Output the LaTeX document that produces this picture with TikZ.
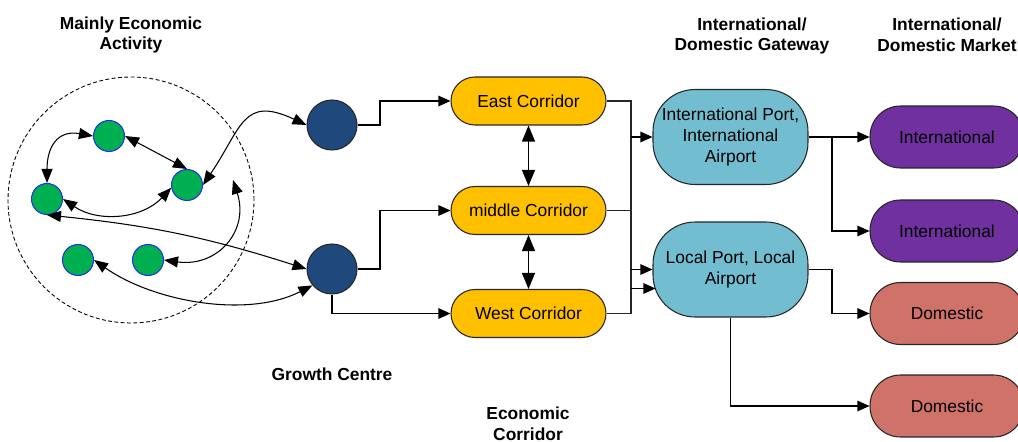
\documentclass[tikz,border=0pt]{standalone}
\usepackage{fontspec}
\setmainfont{Liberation Sans}
\usepackage{xcolor}
\usepackage{tikz}
\usetikzlibrary{positioning, calc, arrows.meta}
\definecolor{activitygreen}{RGB}{0,176,80}
\definecolor{activityedge}{RGB}{30,50,230}
\definecolor{growthblue}{RGB}{31,73,125}
\definecolor{corridororange}{RGB}{255,192,0}
\definecolor{gatewaycyan}{RGB}{114,190,208}
\definecolor{intpurple}{RGB}{112,48,160}
\definecolor{domsalmon}{RGB}{207,114,105}
\tikzstyle{arrow} = [line width=0.6pt,-{Triangle[length=0.24cm,width=0.21cm]}]
\tikzstyle{bigarrow} = [line width=0.6pt,{Triangle[length=0.32cm,width=0.26cm]}-{Triangle[length=0.32cm,width=0.26cm]}]
\tikzstyle{curvearrow} = [line width=0.6pt,{Triangle[length=0.28cm,width=0.22cm]}-{Triangle[length=0.28cm,width=0.22cm]}]
\tikzstyle{line} = [line width=0.6pt, draw=black!85]
\tikzstyle{activitynode} = [circle, draw=activityedge, fill=activitygreen, line width=0.6pt, minimum size=0.62cm, inner sep=0]
\tikzstyle{growthnode} = [circle, draw=black!85, fill=growthblue, line width=0.6pt, minimum size=1cm, inner sep=0]
\tikzstyle{corridorbox} = [rectangle, rounded corners=0.48cm, draw=black!85, fill=corridororange, line width=0.6pt, minimum width=3.1cm, minimum height=0.96cm, inner sep=0]
\tikzstyle{gatewaybox} = [rectangle, rounded corners=0.84cm, draw=black!85, fill=gatewaycyan, line width=0.6pt, minimum width=3.1cm, minimum height=1.9cm, inner sep=0, align=center]
\tikzstyle{marketbox} = [rectangle, rounded corners=0.61cm, draw=black!85, line width=0.6pt, minimum width=3.08cm, minimum height=1.24cm, inner sep=0]
\tikzstyle{heading} = [font=\fontsize{9.9pt}{11.9pt}\selectfont\bfseries, align=center, inner sep=0]

\begin{document}
\begin{tikzpicture}[x=0.02cm, y=0.02cm, font=\fontsize{9.9pt}{11.9pt}\selectfont]
	\useasboundingbox (0,0) rectangle (1018,-442);
	
	\coordinate (jog) at (380,0);
	\coordinate (bus) at (631,0);
	\coordinate (split) at (832,0);
	\coordinate (open) at (233,-180);
	
	\node[heading] (activityhead) at (131,-35) {Mainly Economic\\Activity};
	\node[heading] (growthhead) at (332,-374) {Growth Centre};
	\node[heading] (corridorhead) at (528,-424) {Economic\\Corridor};
	\node[heading] (gatewayhead) at (752,-36) {International/\\Domestic Gateway};
	\node[heading] (markethead) at (947,-35) {International/\\Domestic Market};
	
	\node[circle, draw, dash pattern=on 2.2pt off 1.4pt, line width=0.5pt, minimum size=4.92cm, inner sep=0] (cluster) at (131,-200) {};
	
	\node[activitynode] (g1) at (109,-136) {};
	\node[activitynode] (g2) at (187,-185) {};
	\node[activitynode] (g3) at (47,-199) {};
	\node[activitynode] (g4) at (78,-260) {};
	\node[activitynode] (g5) at (148,-260) {};
	
	\node[growthnode] (b1) at (332,-125) {};
	\node[growthnode] (b2) at (332,-269) {};
	
	\node[corridorbox] (east) at (528.5,-101) {East Corridor};
	\node[corridorbox] (mid) at (528.5,-210.5) {middle Corridor};
	\node[corridorbox] (west) at (528.5,-313.5) {West Corridor};
	
	\node[gatewaybox] (intport) at (730.5,-137) {International Port,\\International\\Airport};
	\node[gatewaybox] (localport) at (730.5,-269.5) {Local Port, Local\\Airport};
	
	\node[marketbox, fill=intpurple] (int1) at (947,-137) {International};
	\node[marketbox, fill=intpurple] (int2) at (947,-231) {International};
	\node[marketbox, fill=domsalmon] (dom1) at (947,-313.5) {Domestic};
	\node[marketbox, fill=domsalmon] (dom2) at (947,-406) {Domestic};
	
	\draw[curvearrow] (g1.west) to[out=170,in=90,looseness=1.4] (g3.north);
	\draw[curvearrow] (g1.east) -- (g2.north);
	\draw[curvearrow] (g3.east) to[out=-34,in=227] (g2.190);
	\draw[curvearrow] (g2.east) to[out=56,in=155,looseness=1.5] (b1.west);
	\draw[curvearrow] (g3.south) to[bend left=6] (b2.west);
	\draw[curvearrow] (g4.east) to[out=-35,in=207,looseness=0.85] (b2.220);
	\draw[curvearrow] (g5.east) to[out=-8,in=-72,looseness=1.3] (open);
	
	\draw[arrow] (b1.east) -- (b1.east -| jog) |- (east.west);
	\draw[arrow] (b2.east) -- (b2.east -| jog) |- (mid.west);
	\draw[arrow] (b2.south) |- (west.west);
	
	\draw[bigarrow] (east.south) -- (mid.north);
	\draw[bigarrow] (mid.south) -- (west.north);
	
	\draw[line] (east.east) -- (east.east -| bus) -- (west.east -| bus) -- (west.east);
	\draw[line] (mid.east) -- (mid.east -| bus);
	\coordinate (lowin) at ($ (localport.west) + (3,-19) $);
	\draw[arrow] (intport.west -| bus) -- (intport.west);
	\draw[arrow] (localport.west -| bus) -- (localport.west);
	\draw[arrow] (lowin -| bus) -- (lowin);
	
	\draw[arrow] (intport.east) -- (int1.west);
	\draw[arrow] (intport.east -| split) |- (int2.west);
	\draw[arrow] (localport.east) -- (localport.east -| split) |- (dom1.west);
	\draw[arrow] (localport.south) |- (dom2.west);
	
\end{tikzpicture}
\end{document}
